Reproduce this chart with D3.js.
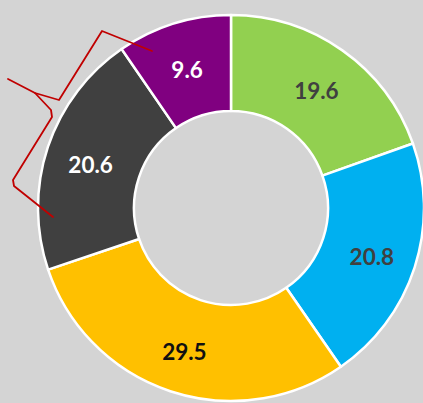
<!DOCTYPE html>
<html lang="en">
<head>
<meta charset="UTF-8">
<title>Donut</title>
<style>
  html, body { margin: 0; padding: 0; background: #d4d4d4; overflow: hidden; }
</style>
</head>
<body>
<div class="chart"></div>
<script src="https://d3js.org/d3.v7.min.js"></script>
<script>
    var w = 423, h = 403;

    // slices, clockwise from 12 o'clock
    var values = [19.6, 20.8, 29.5, 20.6, 9.6];
    var colors = ["#92d050", "#00b0f0", "#ffc000", "#404040", "#800080"];
    var labelColors = ["#404040", "#404040", "#111111", "#ffffff", "#ffffff"];

    // hand-drawn red bracket on the left
    var bracketTop = [[152, 51], [102, 31], [59, 100], [35, 93], [8, 79]];
    var bracketBottom = [[35, 93], [51, 110], [52, 117], [13, 180], [14, 186], [53, 217]];

    var cx = 231, cy = 208, outerR = 193, innerR = 97;

    var svg = d3.select(".chart")
        .append("svg")
        .attr("width", w)
        .attr("height", h);

    svg.append("rect")
        .attr("width", w)
        .attr("height", h)
        .attr("fill", "#d4d4d4");

    var pie = d3.pie().sort(null).value(function(d) { return d; });
    var arc = d3.arc().innerRadius(innerR).outerRadius(outerR);
    var labelArc = d3.arc().innerRadius(148).outerRadius(148);

    var g = svg.append("g")
        .attr("transform", "translate(" + cx + "," + cy + ")");

    g.selectAll("path")
        .data(pie(values))
        .enter()
        .append("path")
        .attr("d", arc)
        .attr("fill", function(d, i) { return colors[i]; })
        .attr("stroke", "#ffffff")
        .attr("stroke-width", 2.5)
        .attr("stroke-linejoin", "round");

    g.selectAll("text")
        .data(pie(values))
        .enter()
        .append("text")
        .attr("transform", function(d) { return "translate(" + labelArc.centroid(d) + ")"; })
        .attr("text-anchor", "middle")
        .attr("dy", "0.52em")
        .attr("fill", function(d, i) { return labelColors[i]; })
        .style("font-family", "Lato, 'Open Sans', sans-serif")
        .style("font-weight", "bold")
        .style("font-size", "22.5px")
        .text(function(d) { return d.data.toFixed(1); });

    var line = d3.line();
    [bracketTop, bracketBottom].forEach(function(pts) {
        svg.append("path")
            .attr("d", line(pts))
            .attr("fill", "none")
            .attr("stroke", "#c00000")
            .attr("stroke-width", 1.8)
            .attr("stroke-linejoin", "round")
            .attr("stroke-linecap", "round");
    });
</script>
</body>
</html>
